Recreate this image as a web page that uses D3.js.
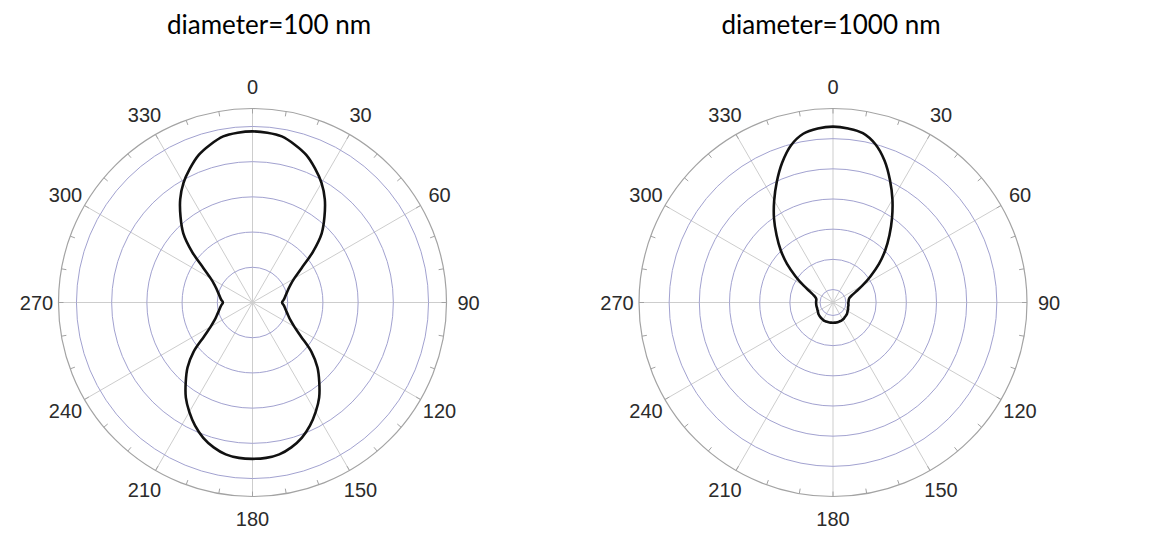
<!DOCTYPE html>
<html>
<head>
<meta charset="utf-8">
<script src="https://cdn.jsdelivr.net/npm/d3@7"></script>
<style>
  body { margin: 0; background: #fff; }
  .tick-label { font-family: "Liberation Sans", Arial, sans-serif; font-size: 20px; fill: #2b2b2b; }
  .title { font-family: Lato, "Open Sans", sans-serif; font-size: 26px; fill: #000; }
</style>
</head>
<body>
<svg id="chart" width="1160" height="548"></svg>
<script>
// angle labels, degrees clockwise from the top
var angleTicks = [0, 30, 60, 90, 120, 150, 180, 210, 240, 270, 300, 330];
var minorTicks = d3.range(0, 360, 10);

// the curves every 5 degrees
var angles = [0, 5, 10, 15, 20, 25, 30, 35, 40, 45, 50, 55, 60, 65, 70, 75, 80, 85,
  90, 95, 100, 105, 110, 115, 120, 125, 130, 135, 140, 145, 150, 155, 160, 165, 170, 175,
  180, 185, 190, 195, 200, 205, 210, 215, 220, 225, 230, 235, 240, 245, 250, 255, 260, 265,
  270, 275, 280, 285, 290, 295, 300, 305, 310, 315, 320, 325, 330, 335, 340, 345, 350, 355];

// diameter=100 nm (radius in ring units, rings at 1..5)
var r100 = [4.86, 4.84, 4.79, 4.64, 4.46, 4.20, 3.92, 3.58, 3.18, 2.78, 2.24, 1.70, 1.37, 1.19, 1.08, 1.00, 0.94, 0.89,
  0.84, 0.89, 0.94, 1.00, 1.08, 1.19, 1.37, 1.68, 2.19, 2.61, 2.95, 3.30, 3.59, 3.86, 4.09, 4.26, 4.38, 4.43,
  4.44, 4.43, 4.38, 4.26, 4.09, 3.86, 3.59, 3.30, 2.95, 2.61, 2.19, 1.68, 1.37, 1.19, 1.08, 1.00, 0.94, 0.89,
  0.84, 0.89, 0.94, 1.00, 1.08, 1.19, 1.37, 1.70, 2.24, 2.78, 3.18, 3.58, 3.92, 4.20, 4.46, 4.64, 4.79, 4.84];
var rings100 = [1, 2, 3, 4, 5];
var range100 = [0, 5.51];

// diameter=1000 nm (rings at 0..5, the r axis starts a bit below 0)
var r1000 = [5.40, 5.36, 5.27, 5.00, 4.57, 4.04, 3.51, 2.98, 2.48, 2.02, 1.56, 1.09, 0.70, 0.40, 0.22, 0.13, 0.10, 0.09,
  0.08, 0.08, 0.09, 0.09, 0.10, 0.12, 0.13, 0.15, 0.17, 0.18, 0.19, 0.21, 0.22, 0.23, 0.23, 0.24, 0.24, 0.24,
  0.24, 0.24, 0.24, 0.24, 0.24, 0.24, 0.23, 0.22, 0.21, 0.20, 0.19, 0.17, 0.15, 0.14, 0.13, 0.13, 0.13, 0.13,
  0.13, 0.13, 0.13, 0.16, 0.24, 0.40, 0.70, 1.09, 1.56, 2.02, 2.48, 2.98, 3.47, 3.98, 4.50, 4.96, 5.25, 5.36];
var rings1000 = [0, 1, 2, 3, 4, 5];
var range1000 = [-0.43, 6];

var titles = ["diameter=100 nm", "diameter=1000 nm"];

var svg = d3.select("#chart");
var R = 194, cy = 302.5;

drawPolar(252.5, 269, titles[0], r100, rings100, range100);
drawPolar(833, 831, titles[1], r1000, rings1000, range1000);

function drawPolar (cx, titleX, title, values, rings, domain) {
  var r = d3.scaleLinear().domain(domain).range([0, R]);
  var rad = function (deg) { return deg * Math.PI / 180; };

  svg.append("text")
    .attr("class", "title")
    .attr("x", titleX)
    .attr("y", 34)
    .attr("text-anchor", "middle")
    .text(title);

  var g = svg.append("g")
    .attr("transform", "translate(" + cx + "," + cy + ")");

  // spokes every 30 degrees
  g.selectAll(".spoke").data(angleTicks).enter()
    .append("line")
    .attr("class", "spoke")
    .attr("x1", 0).attr("y1", 0)
    .attr("x2", function(d) { return R * Math.sin(rad(d)); })
    .attr("y2", function(d) { return -R * Math.cos(rad(d)); })
    .attr("stroke", "#cdcdcd")
    .attr("stroke-width", 1);

  // inner rings
  g.selectAll(".ring").data(rings).enter()
    .append("circle")
    .attr("class", "ring")
    .attr("r", function(d) { return r(d); })
    .attr("fill", "none")
    .attr("stroke", "#a2a2d0")
    .attr("stroke-width", 1);

  // outer circle with small ticks
  g.append("circle")
    .attr("r", R)
    .attr("fill", "none")
    .attr("stroke", "#a3a3a3")
    .attr("stroke-width", 1.2);

  g.selectAll(".minor").data(minorTicks).enter()
    .append("line")
    .attr("class", "minor")
    .attr("x1", function(d) { return R * Math.sin(rad(d)); })
    .attr("y1", function(d) { return -R * Math.cos(rad(d)); })
    .attr("x2", function(d) { return (R - 5) * Math.sin(rad(d)); })
    .attr("y2", function(d) { return -(R - 5) * Math.cos(rad(d)); })
    .attr("stroke", "#a3a3a3")
    .attr("stroke-width", 1);

  g.selectAll(".tick-label").data(angleTicks).enter()
    .append("text")
    .attr("class", "tick-label")
    .attr("x", function(d) { return (R + 22) * Math.sin(rad(d)); })
    .attr("y", function(d) { return -(R + 22) * Math.cos(rad(d)); })
    .attr("text-anchor", "middle")
    .attr("dominant-baseline", "central")
    .text(function(d) { return d; });

  // the pattern itself
  var line = d3.lineRadial()
    .angle(function(d, i) { return rad(angles[i]); })
    .radius(function(d) { return r(d); })
    .curve(d3.curveCatmullRomClosed.alpha(0.5));

  g.append("path")
    .datum(values)
    .attr("d", line)
    .attr("fill", "none")
    .attr("stroke", "#111")
    .attr("stroke-width", 2.6);
}
</script>
</body>
</html>
